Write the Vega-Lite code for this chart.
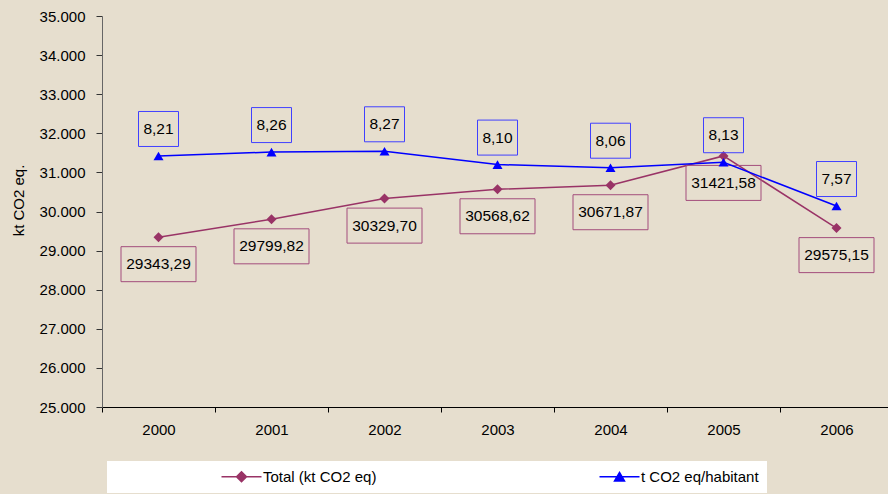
{
  "$schema": "https://vega.github.io/schema/vega-lite/v6.json",
  "width": 786,
  "height": 391,
  "autosize": "none",
  "padding": {"left": 102, "top": 16, "right": 0, "bottom": 87},
  "background": "#E6DECE",
  "config": {
    "view": {"stroke": null},
    "font": "Liberation Sans",
    "locale": {"number": {"decimal": ",", "thousands": ".", "grouping": [3], "currency": ["", " €"]}}
  },
  "data": {
    "values": [
      {"year": "2000", "series": "Total (kt CO2 eq)", "value": 29343.29},
      {"year": "2001", "series": "Total (kt CO2 eq)", "value": 29799.82},
      {"year": "2002", "series": "Total (kt CO2 eq)", "value": 30329.70},
      {"year": "2003", "series": "Total (kt CO2 eq)", "value": 30568.62},
      {"year": "2004", "series": "Total (kt CO2 eq)", "value": 30671.87},
      {"year": "2005", "series": "Total (kt CO2 eq)", "value": 31421.58},
      {"year": "2006", "series": "Total (kt CO2 eq)", "value": 29575.15},
      {"year": "2000", "series": "t CO2 eq/habitant", "value": 8.21},
      {"year": "2001", "series": "t CO2 eq/habitant", "value": 8.26},
      {"year": "2002", "series": "t CO2 eq/habitant", "value": 8.27},
      {"year": "2003", "series": "t CO2 eq/habitant", "value": 8.10},
      {"year": "2004", "series": "t CO2 eq/habitant", "value": 8.06},
      {"year": "2005", "series": "t CO2 eq/habitant", "value": 8.13},
      {"year": "2006", "series": "t CO2 eq/habitant", "value": 7.57}
    ]
  },
  "encoding": {
    "x": {
      "field": "year",
      "type": "ordinal",
      "scale": {"range": [0, 791], "paddingInner": 0, "paddingOuter": 0},
      "axis": {
        "title": null,
        "labelAngle": 0,
        "labelFontSize": 15,
        "labelColor": "black",
        "labelPadding": 10,
        "tickBand": "extent",
        "tickSize": 5,
        "tickColor": "black",
        "domainColor": "black",
        "grid": false
      }
    }
  },
  "layer": [
    {
      "transform": [{"filter": "datum.series === 'Total (kt CO2 eq)'"}],
      "encoding": {
        "y": {
          "field": "value",
          "type": "quantitative",
          "scale": {"domain": [25000, 35000], "zero": false, "nice": false},
          "axis": {
            "title": "kt CO2 eq.",
            "titleFontSize": 15,
            "titleFontWeight": "normal",
            "titleColor": "black",
            "titleX": -84,
            "titleY": 184,
            "titleBaseline": "middle",
            "titleAngle": 270,
            "titleAlign": "center",
            "format": ",d",
            "values": [25000, 26000, 27000, 28000, 29000, 30000, 31000, 32000, 33000, 34000, 35000],
            "labelOverlap": false,
            "labelFontSize": 15,
            "labelColor": "black",
            "labelPadding": 11,
            "tickSize": 6,
            "tickColor": "#333333",
            "domainColor": "#666666",
            "grid": false
          }
        }
      },
      "layer": [
        {
          "mark": {"type": "line", "strokeWidth": 1.5},
          "encoding": {
            "color": {
              "field": "series",
              "type": "nominal",
              "scale": {"domain": ["Total (kt CO2 eq)", "t CO2 eq/habitant"], "range": ["#993366", "#0000FF"]},
              "legend": {
                "orient": "none",
                "legendX": 5,
                "legendY": 445,
                "direction": "horizontal",
                "title": null,
                "fillColor": "white",
                "padding": 8,
                "symbolSize": 100,
                "symbolStrokeWidth": 1.5,
                "symbolOffset": 119,
                "labelOffset": 14,
                "columnPadding": 116,
                "labelFontSize": 15,
                "labelColor": "black",
                "labelLimit": 400,
                "labelExpr": "datum.label === 't CO2 eq/habitant' ? datum.label + '\u00a0\u00a0\u00a0\u00a0\u00a0\u00a0\u00a0\u00a0\u00a0\u00a0\u00a0\u00a0\u00a0\u00a0\u00a0\u00a0\u00a0\u00a0\u00a0\u00a0\u00a0\u00a0\u00a0\u00a0\u00a0\u00a0\u00a0' : datum.label",
                "encode": {
                  "symbols": {
                    "update": {
                      "shape": {"signal": "datum.value === 'Total (kt CO2 eq)' ? 'M-4,0L4,0M-1,0L0,-1L1,0L0,1Z' : 'M-4,0L4,0M0,-0.87L1,0.87L-1,0.87Z'"},
                      "fill": {"signal": "scale('color', datum.value)"},
                      "stroke": {"signal": "scale('color', datum.value)"},
                      "opacity": {"value": 1}
                    }
                  }
                }
              }
            }
          }
        },
        {
          "mark": {"type": "point", "shape": "diamond", "filled": true, "size": 100, "opacity": 1},
          "encoding": {"color": {"field": "series", "type": "nominal"}}
        },
        {
          "mark": {"type": "point", "shape": "M-1,-0.4667L1,-0.4667L1,0.4667L-1,0.4667Z", "size": 5625, "filled": false, "stroke": "#A34D7C", "strokeWidth": 1, "yOffset": 27, "opacity": 1}
        },
        {
          "mark": {"type": "text", "yOffset": 27, "fontSize": 15.5, "color": "black", "baseline": "middle"},
          "encoding": {"text": {"field": "value", "type": "quantitative", "format": ".2f"}}
        }
      ]
    },
    {
      "transform": [{"filter": "datum.series === 't CO2 eq/habitant'"}],
      "encoding": {
        "y": {
          "field": "value",
          "type": "quantitative",
          "scale": {"domain": [5, 10], "zero": false, "nice": false},
          "axis": null
        }
      },
      "layer": [
        {
          "mark": {"type": "line", "strokeWidth": 1.5},
          "encoding": {"color": {"field": "series", "type": "nominal"}}
        },
        {
          "mark": {"type": "point", "shape": "triangle-up", "filled": true, "size": 100, "opacity": 1},
          "encoding": {"color": {"field": "series", "type": "nominal"}}
        },
        {
          "mark": {"type": "point", "shape": "M-1,-0.875L1,-0.875L1,0.875L-1,0.875Z", "size": 1600, "filled": false, "stroke": "#4040FF", "strokeWidth": 1, "yOffset": -27, "opacity": 1}
        },
        {
          "mark": {"type": "text", "yOffset": -27, "fontSize": 15.5, "color": "black", "baseline": "middle"},
          "encoding": {"text": {"field": "value", "type": "quantitative", "format": ".2f"}}
        }
      ]
    }
  ],
  "resolve": {"scale": {"y": "independent"}}
}
